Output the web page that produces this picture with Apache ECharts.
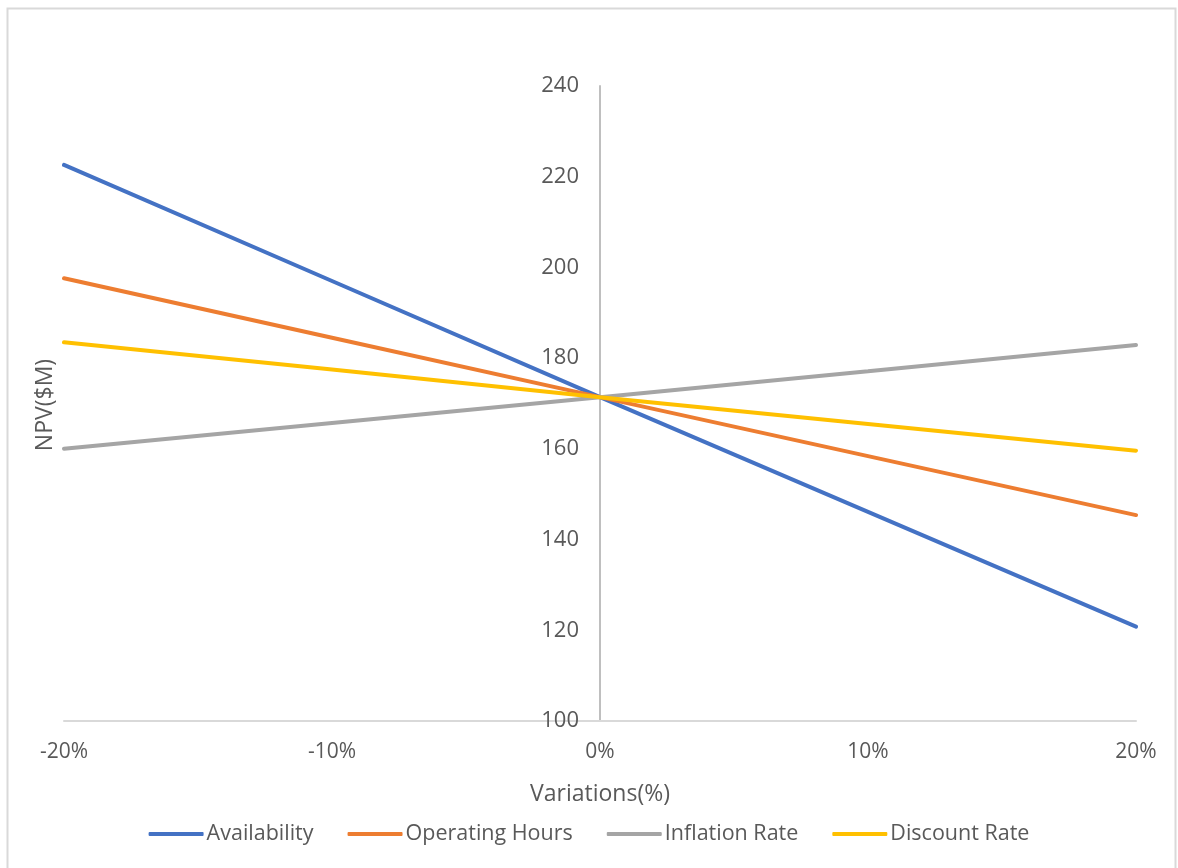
<!DOCTYPE html>
<html>
<head>
<meta charset="utf-8">
<style>
  html, body { margin: 0; padding: 0; background: #fff; }
  #chart { width: 1178px; height: 868px; }
</style>
<script src="https://cdn.jsdelivr.net/npm/echarts@6/dist/echarts.min.js"></script>
</head>
<body>
<div id="chart"></div>
<script>
// Sensitivity of NPV to ±20% variation of each input
const variations = [-0.2, -0.1, 0, 0.1, 0.2];
const availability = [222.6, 197.0, 171.4, 146.1, 120.8];
const operatingHours = [197.6, 184.5, 171.4, 158.4, 145.4];
const inflationRate = [160.0, 165.7, 171.4, 177.1, 182.9];
const discountRate = [183.5, 177.5, 171.4, 165.5, 159.6];
const seriesNames = ['Availability', 'Operating Hours', 'Inflation Rate', 'Discount Rate'];
const seriesColors = ['#4472C4', '#ED7D31', '#A5A5A5', '#FFC000'];

const FONT = '"Open Sans", "Noto Sans", sans-serif';
const TEXT = '#595959';

const GRID_LEFT = 64;
const GRID_RIGHT = 42;
const CHART_W = 1178;

function pairs(values) {
  return variations.map((v, i) => [v, values[i]]);
}

const allValues = [availability, operatingHours, inflationRate, discountRate];

// the vertical axis sits at x = 0, in the middle of the plot
const plotWidth = CHART_W - GRID_LEFT - GRID_RIGHT;
const zeroOffset = -plotWidth * (0 - variations[0]) / (variations[variations.length - 1] - variations[0]);

const chart = echarts.init(document.getElementById('chart'));
chart.setOption({
  animation: false,
  backgroundColor: '#ffffff',
  color: seriesColors,
  graphic: [{
    type: 'rect',
    shape: { x: 7.5, y: 8.5, width: 1168, height: 900 },
    style: { fill: 'none', stroke: '#d9d9d9', lineWidth: 2 },
    silent: true
  }, {
    type: 'text',
    rotation: Math.PI / 2,
    x: 45,
    y: 405,
    style: {
      text: 'NPV($M)',
      fill: TEXT,
      font: '23px ' + FONT,
      textAlign: 'center',
      textVerticalAlign: 'middle'
    },
    silent: true
  }],
  grid: { left: GRID_LEFT, right: GRID_RIGHT, top: 86, bottom: 147 },
  xAxis: {
    type: 'value',
    min: -0.2,
    max: 0.2,
    interval: 0.1,
    name: 'Variations(%)',
    nameLocation: 'middle',
    nameGap: 62,
    nameTextStyle: { color: TEXT, fontFamily: FONT, fontSize: 23 },
    axisLine: { onZero: false, lineStyle: { color: '#d9d9d9', width: 2 } },
    axisTick: { show: false },
    splitLine: { show: false },
    axisLabel: {
      color: TEXT, fontFamily: FONT, fontSize: 21, margin: 21,
      formatter: v => Math.round(v * 100) + '%'
    }
  },
  yAxis: {
    type: 'value',
    min: 100,
    max: 240,
    interval: 20,
    offset: zeroOffset,
    axisLine: { show: true, onZero: false, lineStyle: { color: '#bfbfbf', width: 2 } },
    axisTick: { show: false },
    splitLine: { show: false },
    axisLabel: { color: TEXT, fontFamily: FONT, fontSize: 22, margin: 21 }
  },
  legend: {
    bottom: 18,
    left: 'center',
    itemWidth: 55,
    itemHeight: 4,
    itemGap: 34,
    icon: 'roundRect',
    textStyle: { color: TEXT, fontFamily: FONT, fontSize: 21.5, padding: [0, 0, 0, -2] },
    data: seriesNames
  },
  series: seriesNames.map((name, i) => ({
    name: name,
    type: 'line',
    data: pairs(allValues[i]),
    showSymbol: false,
    symbol: 'none',
    lineStyle: { width: 4, color: seriesColors[i], cap: 'round' },
    itemStyle: { color: seriesColors[i] },
    z: 2 + i
  }))
});
</script>
</body>
</html>
